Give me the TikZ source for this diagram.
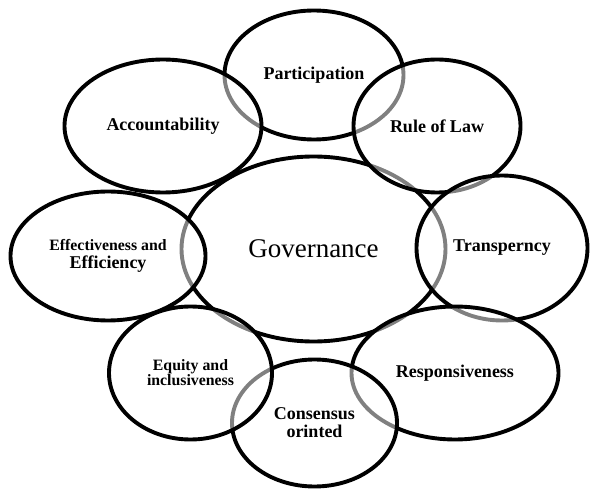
\documentclass[tikz,border=0pt]{standalone}
\usepackage{fontspec}
\setmainfont{Liberation Serif}
\usetikzlibrary{shapes.geometric}
\begin{document}
\begin{tikzpicture}[x=1pt,y=1pt,
	pill/.style={ellipse,draw,line width=3.9pt,fill=white,fill opacity=.5,text opacity=1,
		inner sep=0pt,outer sep=0pt,align=center,font=\bfseries\fontsize{18}{18}\selectfont}]
	\useasboundingbox (0,0) rectangle (590,491);

	% centre first, then the ring (later ones grey the lines below them)
	\node[pill,minimum width=264pt,minimum height=185pt,font=\fontsize{27}{27}\selectfont] (gov) at (313.5,242) {Governance};
	\node[pill,minimum width=179pt,minimum height=129pt] (par) at (314,416) {Participation};
	\node[pill,minimum width=197pt,minimum height=133pt] (acc) at (163,365) {Accountability};
	\node[pill,minimum width=195pt,minimum height=129pt] (eff) at (108,235)
		{\fontsize{15.8}{18}\selectfont Effectiveness and\\\fontsize{18}{18}\selectfont Efficiency};
	\node[pill,minimum width=167pt,minimum height=133pt] (rol) at (437,365) {Rule of Law};
	\node[pill,minimum width=171pt,minimum height=145pt] (tra) at (502,243) {Transperncy};
	\node[pill,minimum width=207pt,minimum height=133pt] (res) at (455,118) {Responsiveness};
	\node[pill,minimum width=165pt,minimum height=127pt] (con) at (314.5,68) {Consensus\\orinted};
	\node[pill,minimum width=163pt,minimum height=133pt,font=\bfseries\fontsize{15.8}{15}\selectfont] (equ) at (190.5,118) {Equity and\\inclusiveness};
\end{tikzpicture}
\end{document}
